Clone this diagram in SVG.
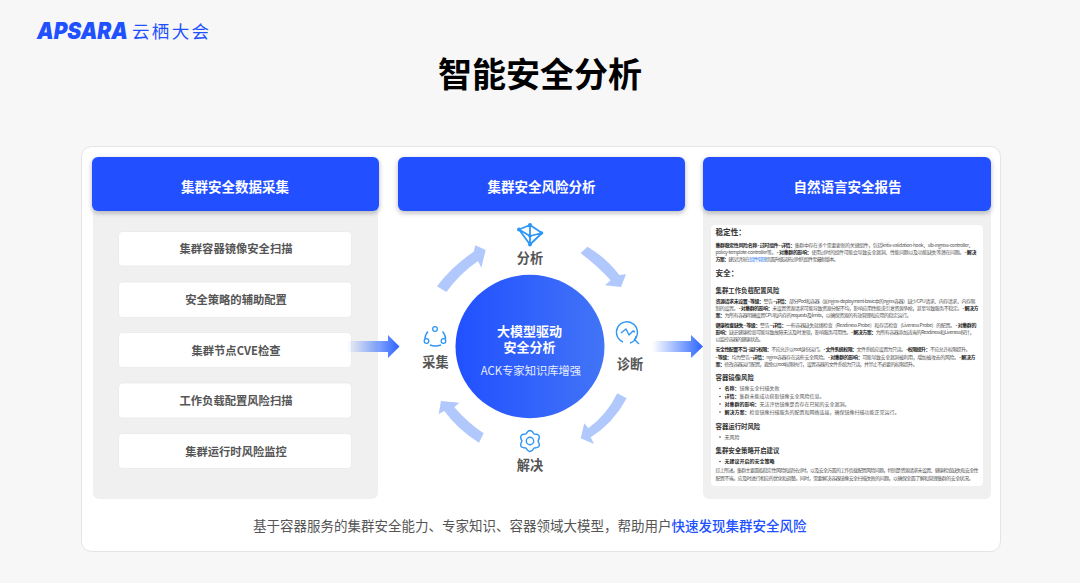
<svg xmlns="http://www.w3.org/2000/svg" width="1080" height="583" viewBox="0 0 1080 583">
<style>
text{font-family:"Noto Sans CJK SC","Noto Sans",sans-serif}
.hd{fill:#2150ff;filter:url(#sh)}
.hdt{font-size:13.5px;font-weight:700;fill:#fff;text-anchor:middle}
.box{fill:#fff;stroke:#e6e6e8;stroke-width:.7}
.boxt{font-size:11.3px;font-weight:700;fill:#555;text-anchor:middle}
.lab{font-size:13.2px;font-weight:700;fill:#555;text-anchor:middle}
.arc{fill:#b0c8fc}
.ic{fill:none;stroke:#2f96f5;stroke-width:1.4;stroke-linejoin:round}
.icf{fill:#fff;stroke:#2f96f5;stroke-width:1.3}
.r{font-size:5px;fill:#555}
.r tspan{font-weight:700;fill:#222}
.h1{font-size:7.6px;font-weight:700;fill:#333}
.h2{font-size:6.4px;font-weight:700;fill:#333}
</style>
<defs>
<filter id="sh" x="-5%" y="-20%" width="110%" height="150%"><feDropShadow dx="0" dy="2" stdDeviation="2.5" flood-color="#223" flood-opacity=".3"/></filter>
<linearGradient id="cg" x1="0" y1="0" x2="1" y2="0"><stop offset="0" stop-color="#2150ff"/><stop offset="1" stop-color="#4274f7"/></linearGradient>
<linearGradient id="ag" x1="0" y1="0" x2="1" y2="0"><stop offset="0" stop-color="#2f6bff" stop-opacity="0"/><stop offset="1" stop-color="#2a62ff"/></linearGradient>
</defs>
<rect width="1080" height="583" fill="#f7f7f8"/>
<g id="logo">
<text x="37" y="39" font-size="23" font-weight="900" font-style="italic" fill="#2150ff" textLength="91" lengthAdjust="spacingAndGlyphs" style="font-family:Inter,'Open Sans',sans-serif">APSARA</text>
<text x="132" y="37.500" font-size="17.500" fill="#2150ff" textLength="77">云栖大会</text>
</g>
<text id="title" x="540" y="87" font-size="34" font-weight="700" fill="#000" text-anchor="middle">智能安全分析</text>
<rect id="card" x="81.500" y="146.500" width="919" height="405" rx="10" fill="#fff" stroke="#e4e4e6"/>
<g id="panel-collect">
<rect x="93" y="200" width="285" height="299" rx="6" fill="#f0f0f0"/>
<rect class="hd" x="92" y="157" width="287" height="54" rx="6"/>
<text class="hdt" x="235" y="191.500">集群安全数据采集</text>
</g>
<g id="item-1"><rect class="box" x="118.500" y="231.500" width="233" height="34.500" rx="4"/><text class="boxt" x="236" y="253">集群容器镜像安全扫描</text></g>
<g id="item-2"><rect class="box" x="118.500" y="282" width="233" height="35.500" rx="4"/><text class="boxt" x="236" y="304">安全策略的辅助配置</text></g>
<g id="item-3"><rect class="box" x="118.500" y="332.500" width="233" height="35" rx="4"/><text class="boxt" x="236" y="354.500">集群节点CVE检查</text></g>
<g id="item-4"><rect class="box" x="118.500" y="383" width="233" height="35" rx="4"/><text class="boxt" x="236" y="405">工作负载配置风险扫描</text></g>
<g id="item-5"><rect class="box" x="118.500" y="433.500" width="233" height="35" rx="4"/><text class="boxt" x="236" y="456">集群运行时风险监控</text></g>
<g id="panel-analysis">
<rect class="hd" x="398" y="157" width="287" height="54" rx="6"/>
<text class="hdt" x="541.500" y="191.500">集群安全风险分析</text>
</g>
<g id="connectors">
<g transform="translate(340 210) scale(.33333)">
<path class="arc" d="M291 229Q335 170 401 125L406 106L437 120L424 173L414 153Q360 190 319 246Z"/>
<path class="arc" d="M742 110Q795 140 838 195L858 193L843 231L795 226L812 211Q770 165 722 130Z"/>
<path class="arc" d="M860 565Q820 640 752 682L762 702L722 685L733 640L745 655Q800 615 832 550Z"/>
<path class="arc" d="M431 670Q385 640 343 592L358 578L303 573L296 612L313 603Q355 660 417 698Z"/>
</g>
<path fill="url(#ag)" d="M347 341H388V335L399.500 346.500L388 358V352H347Z"/>
<path fill="url(#ag)" d="M652 341H691V335L703 346.500L691 358V352H652Z"/>
</g>
<g id="core">
<ellipse cx="530" cy="346.500" rx="74.500" ry="71.700" fill="url(#cg)"/>
<text x="529.500" y="335.500" font-size="13" font-weight="700" fill="#fff" text-anchor="middle">大模型驱动</text>
<text x="529.500" y="352" font-size="13" font-weight="700" fill="#fff" text-anchor="middle">安全分析</text>
<text x="531" y="375" font-size="11.300" fill="#e6ecff" text-anchor="middle">ACK专家知识库增强</text>
</g>
<g id="step-analyse">
<path class="ic" style="stroke-width:1.800" d="M519 229.500L530 225L542 233L530 244.500ZM519 229.500L530 236L542 233M530 225L530 244.500"/>
<g fill="#2f96f5"><circle cx="519" cy="229.500" r="2"/><circle cx="530" cy="225" r="2"/><circle cx="541.500" cy="233" r="1.800"/><circle cx="530" cy="244.500" r="2"/><circle cx="530" cy="236" r="1.800"/></g>
<text class="lab" x="530" y="263">分析</text>
</g>
<g id="step-diagnose">
<path class="ic" d="M635 339A10.500 10.500 0 1 0 623 342"/>
<path class="ic" d="M621 333L626 329L629 335L633 331L635 332"/>
<path class="ic" d="M634 339L639 344M630 343A8 8 0 0 0 636 336"/>
<text class="lab" x="630" y="369">诊断</text>
</g>
<g id="step-solve">
<path class="ic" d="M526 434Q530 427 534 434Q542 434 538 441Q542 448 534 448Q530 455 526 448Q518 448 522 441Q518 434 526 434Z"/>
<circle class="ic" cx="530" cy="441" r="3.700"/>
<text class="lab" x="530" y="470">解决</text>
</g>
<g id="step-collect">
<path class="ic" d="M428 331.500A10.500 10.500 0 0 0 425 339M442.500 331.500A10.500 10.500 0 0 1 445.500 339M430 345Q435 347 441 345"/>
<circle class="icf" cx="435" cy="329" r="2.300"/><circle class="icf" cx="426.500" cy="341" r="2.300"/><circle class="icf" cx="443.500" cy="341" r="2.300"/>
<text class="lab" x="435.500" y="367">采集</text>
</g>
<g id="panel-report">
<rect x="703" y="200" width="288" height="299" rx="6" fill="#f0f0f0"/>
<rect class="hd" x="703" y="157" width="288" height="54" rx="6"/>
<text class="hdt" x="847.500" y="191.500">自然语言安全报告</text>
<rect x="711" y="225" width="272" height="261" rx="4" fill="#fff"/>
<text class="h1" x="715.500" y="234.500">稳定性&#65306;</text>
<text class="r" x="715.500" y="247" textLength="258"><tspan>集群稳定性风险名称 - 过时组件 - 详情&#65306;</tspan>集群中存在多个需要更新的关键组件&#65292;包括kritis-validation-hook、slb-ingress-controller、</text>
<text class="r" x="715.500" y="254" textLength="261">policy-template-controller等。 <tspan>- 对集群的影响&#65306;</tspan>使用过时的组件可能会导致安全漏洞、性能问题以及功能缺失等潜在问题。 <tspan>- 解决</tspan></text>
<text class="r" x="715.500" y="261" textLength="123"><tspan>方案&#65306;</tspan>建议尽快在<tspan style="fill:#2f7ef5;font-weight:400">组件管理</tspan>页面升级这些过时的组件至最新版本。</text>
<text class="h1" x="715.500" y="276">安全&#65306;</text>
<text class="h2" x="715.500" y="292.500">集群工作负载配置风险</text>
<text class="r" x="715.500" y="303" textLength="260"><tspan>资源请求未设置 - 等级&#65306;</tspan>警告 <tspan>- 详情&#65306;</tspan>部分Pod和容器&#65288;如nginx-deployment-basic中的nginx容器&#65289;缺少CPU请求、内存请求、内存限</text>
<text class="r" x="715.500" y="310" textLength="263">制的设置。 <tspan>- 对集群的影响&#65306;</tspan>未设置资源请求可能导致资源分配不均&#65292;影响应用性能或引发资源争抢&#65292;甚至导致服务不稳定。 <tspan>- 解决方</tspan></text>
<text class="r" x="715.500" y="317" textLength="196"><tspan>案&#65306;</tspan>为所有容器明确设置CPU和内存的requests及limits&#65292;以确保资源的有效管理和应用的稳定运行。</text>
<text class="r" x="715.500" y="327" textLength="261"><tspan>健康检查缺失 - 等级&#65306;</tspan>警告 <tspan>- 详情&#65306;</tspan>一些容器缺失就绪检查&#65288;Readiness Probe&#65289;和存活检查&#65288;Liveness Probe&#65289;的配置。 <tspan>- 对集群的</tspan></text>
<text class="r" x="715.500" y="334" textLength="259"><tspan>影响&#65306;</tspan>缺乏健康检查可能导致故障无法及时发现&#65292;影响服务可用性。 <tspan>- 解决方案&#65306;</tspan>为所有容器添加适当的Readiness和Liveness探针&#65292;</text>
<text class="r" x="715.500" y="341" textLength="48">以监控容器的健康状态。</text>
<text class="r" x="715.500" y="351" textLength="255"><tspan>安全性配置不当 - 运行权限&#65306;</tspan>不应允许以root身份运行。 <tspan>- 文件系统权限&#65306;</tspan>文件系统应设置为只读。 <tspan>- 权限提升&#65306;</tspan>不应允许权限提升。</text>
<text class="r" x="715.500" y="358.500" textLength="260"><tspan>- 等级&#65306;</tspan>均为警告 <tspan>- 详情&#65306;</tspan>nginx容器存在这些安全风险。 <tspan>- 对集群的影响&#65306;</tspan>可能导致安全漏洞被利用&#65292;增加被攻击的风险。 <tspan>- 解决方</tspan></text>
<text class="r" x="715.500" y="365.500" textLength="202"><tspan>案&#65306;</tspan>修改容器运行配置&#65292;避免以root权限执行&#65292;设置容器的文件系统为只读&#65292;并禁止不必要的权限提升。</text>
<text class="h2" x="715.500" y="379.500">容器镜像风险</text>
<circle cx="720" cy="388.500" r=".8" fill="#444"/><text class="r" x="724.500" y="390"><tspan>名称&#65306;</tspan>镜像安全扫描失败</text>
<circle cx="720" cy="396.500" r=".8" fill="#444"/><text class="r" x="724.500" y="398"><tspan>详情&#65306;</tspan>集群未能成功获取镜像安全风险信息。</text>
<circle cx="720" cy="404" r=".8" fill="#444"/><text class="r" x="724.500" y="406"><tspan>对集群的影响&#65306;</tspan>无法评估镜像是否存在已知的安全漏洞。</text>
<circle cx="720" cy="412" r=".8" fill="#444"/><text class="r" x="724.500" y="414"><tspan>解决方案&#65306;</tspan>检查镜像扫描服务的配置和网络连接&#65292;确保镜像扫描功能正常运行。</text>
<text class="h2" x="715.500" y="428.500">容器运行时风险</text>
<circle cx="720" cy="437" r=".8" fill="#444"/><text class="r" x="724.500" y="439">无风险</text>
<text class="h2" x="715.500" y="452.500">集群安全策略开启建议</text>
<circle cx="720" cy="461.500" r=".8" fill="#444"/><text class="r" x="724.500" y="463"><tspan>无建议开启的安全策略</tspan></text>
<text class="r" x="715.500" y="472" textLength="263">综上所述&#65292;集群主要面临稳定性风险和部分过时&#65292;以及安全方面的工作负载配置风险问题&#65292;特别是资源请求未设置、健康检查缺失和安全性</text>
<text class="r" x="715.500" y="479.500" textLength="258">配置不当。应及时进行相应的优化和调整。同时&#65292;需要解决容器镜像安全扫描失败的问题&#65292;以确保全面了解和管理集群的安全状况。</text>
</g>
<text id="caption" x="253" y="531" font-size="13.500" fill="#555">基于容器服务的集群安全能力、专家知识、容器领域大模型&#65292;帮助用户<tspan fill="#2150ff" font-weight="500">快速发现集群安全风险</tspan></text>
</svg>
